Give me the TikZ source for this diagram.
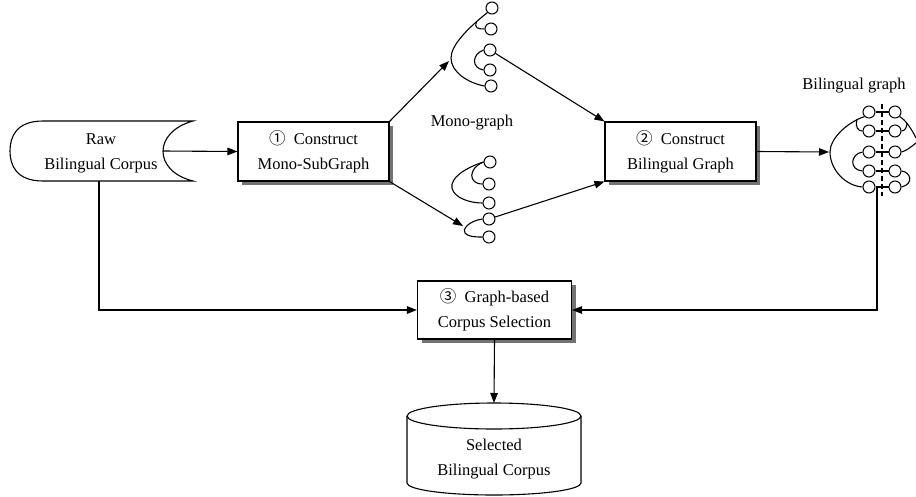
\documentclass[tikz,border=0pt]{standalone}
\usepackage{fontspec}
\setmainfont{Liberation Serif}
\newfontfamily\cjk{Noto Sans CJK SC}
\usetikzlibrary{arrows.meta,shadows}
\begin{document}
\begin{tikzpicture}[x=1pt,y=-1pt,
  line width=1.1pt,
  every node/.style={font=\fontsize{16.5}{25}\selectfont, align=center},
  procbox/.style={draw, fill=white, minimum width=151pt, minimum height=59pt,
    drop shadow={shadow xshift=4pt, shadow yshift=-4pt, fill=black!55, opacity=1}},
  arr/.style={-{Triangle[length=10pt,width=7.5pt]}},
  gnode/.style={draw, circle, minimum size=12pt, inner sep=0pt, fill=white, line width=1pt},
  curve/.style={line width=1.1pt},
]
\useasboundingbox (0,0) rectangle (916,496);

% ---------- raw corpus ----------
\draw (43,121) -- (193,121) .. controls (153,132) and (153,171) .. (193,181) -- (43,181)
  .. controls (16,181) and (10,165) .. (10,151) .. controls (10,137) and (16,121) .. (43,121);
\node (raw) at (101,153) {Raw\\Bilingual Corpus};
\coordinate (rawR) at (163,151);
\coordinate (rawB) at (99,181);

% ---------- process boxes ----------
\node[procbox] (box1) at (313.5,151.5) {{\cjk ①}\ \ Construct\\Mono-SubGraph};
\node[procbox] (box2) at (680.5,151.5) {{\cjk ②}\ \ Construct\\Bilingual Graph};
\node[procbox, minimum width=154pt, minimum height=58pt] (box3) at (494.5,310) {{\cjk ③}\ \ Graph-based\\Corpus Selection};

% ---------- top mono graph ----------
\node[gnode] (t1) at (492,8) {};
\node[gnode] (t2) at (491,29) {};
\node[gnode] (t3) at (490,50) {};
\node[gnode] (t4) at (490,70) {};
\node[gnode] (t5) at (491,86) {};
\coordinate (troot) at (449,61);
\draw[curve] (t1.south west) .. controls (468,28) and (451,45) .. (451,58)
  .. controls (451,72) and (468,83) .. (t5.west);
\draw[curve] (476.5,22) .. controls (474,28) and (478,29) .. (t2.west);
\draw[curve] (t3.west) .. controls (472,54) and (471,68) .. (t4.west);

% ---------- bottom mono graph ----------
\node[gnode] (b1) at (490,162) {};
\node[gnode] (b2) at (489,184) {};
\node[gnode] (b3) at (489,203) {};
\node[gnode] (b4) at (489,219) {};
\node[gnode] (b5) at (489,237) {};
\coordinate (broot) at (463,226);
\draw[curve] (b1.west) .. controls (465,168) and (450,178) .. (452,188)
  .. controls (454,198) and (470,203) .. (b3.west);
\draw[curve] (b1.west) .. controls (468,168) and (468,184) .. (b2.west);
\draw[curve] (b4.west) .. controls (468,221) and (462,230) .. (465,233)
  .. controls (468,237) and (476,237) .. (b5.west);

\node (monolbl) at (472,123) {Mono-graph};

% ---------- bilingual graph ----------
\draw[line width=1.1pt, dash pattern=on 5pt off 3pt] (882,104) -- (882,196);
\foreach \i/\y in {1/112,2/131,3/152,4/171,5/187}{
  \node[gnode] (l\i) at (869,\y) {};
  \node[gnode] (r\i) at (895,\y) {};
  \draw (l\i) -- (r\i);
}
\coordinate (bgroot) at (829,152);
\coordinate (bgb) at (877,187);
\draw[curve] (l1.south west) .. controls (848,122) and (830,138) .. (830,152)
  .. controls (830,170) and (846,186) .. (l5.west);
\draw[curve] (857,119.5) .. controls (855,127) and (858,131) .. (l2.west);
\draw[curve] (l3.west) .. controls (850,154) and (849,170) .. (l4.west);
\draw[curve] (r1.south east) .. controls (906,120) and (912,130) .. (916,138);
\draw[curve] (r2.east) .. controls (905,131) and (907,127) .. (907,123);
\draw[curve] (r3.east) .. controls (906,151) and (911,147) .. (916,143);
\draw[curve] (r4.east) .. controls (911,172) and (914,184) .. (r5.east);
\node (bilbl) at (854,86) {Bilingual graph};

% ---------- selected corpus cylinder ----------
\draw (494,416) ellipse [x radius=87, y radius=13];
\draw (407,416) -- (407,483) arc[start angle=180, end angle=0, x radius=87, y radius=12] -- (581,416);
\node (sel) at (494,459) {Selected\\Bilingual Corpus};
\coordinate (cyltop) at (494,403);

% ---------- connectors ----------
\draw[arr] (rawR) -- (box1.west);
\draw[arr] (box1.north east) -- (troot);
\draw[arr] (box1.south east) -- (broot);
\draw[arr] (t3) -- (box2.north west);
\draw[arr] (b4) -- (box2.south west);
\draw[arr] (box2.east) -- (bgroot);
\draw[arr] (rawB) |- (box3.west);
\draw[arr] (bgb) |- (box3.east);
\draw[arr] (box3.south) -- (cyltop);
\end{tikzpicture}
\end{document}
